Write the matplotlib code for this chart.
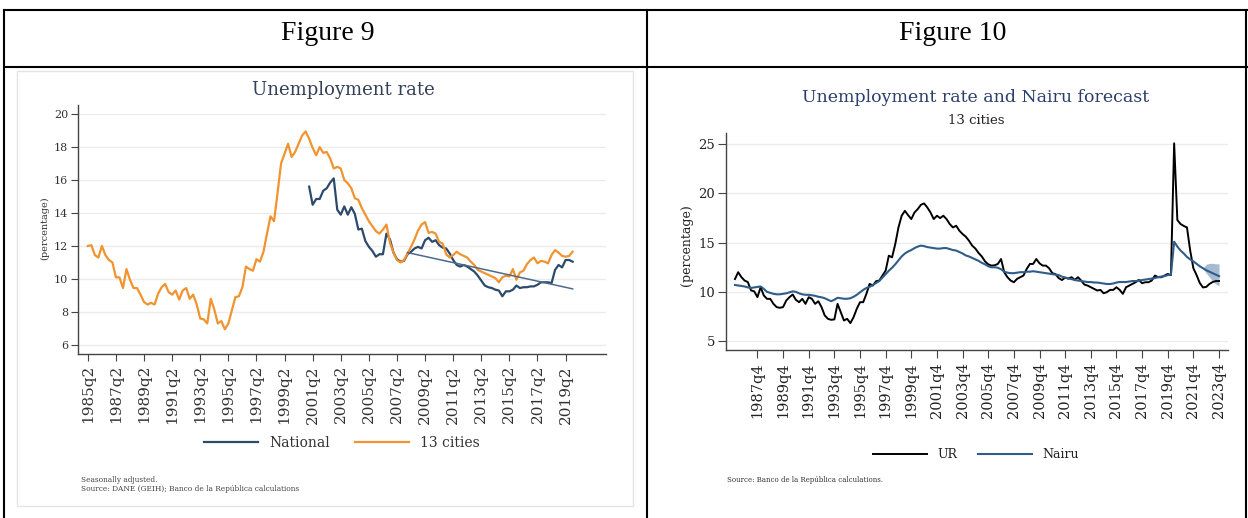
import numpy as np
import matplotlib
matplotlib.use("Agg")
import matplotlib.pyplot as plt
from matplotlib.lines import Line2D
from matplotlib.patches import Rectangle

W, H = 1248, 518
SERIF = "DejaVu Serif"


def qnum(year, q):
    return year * 4 + (q - 1)


def fx(px):
    return px / W


def fy(py):
    return 1 - py / H


# ── Figure 9 data: unemployment rate, seasonally adjusted ────────────────────
CITIES13_START = (1985, 2)
CITIES13 = [
    12.0, 12.05, 11.45, 11.3, 12.0, 11.45, 11.15, 11.0, 10.1, 10.1,
    9.45, 10.6, 9.95, 9.45, 9.45, 9.05, 8.6, 8.45, 8.55, 8.45,
    9.1, 9.5, 9.7, 9.2, 9.05, 9.3, 8.75, 9.3, 9.45, 8.8,
    9.05, 8.45, 7.6, 7.55, 7.3, 8.8, 8.15, 7.3, 7.45, 6.95,
    7.3, 8.1, 8.9, 8.95, 9.5, 10.75, 10.6, 10.5, 11.2, 11.05,
    11.65, 12.75, 13.8, 13.5, 15.2, 17.0, 17.6, 18.2, 17.4, 17.7,
    18.2, 18.7, 18.95, 18.5, 17.95, 17.5, 18.0, 17.65, 17.7, 17.3,
    16.7, 16.8, 16.7, 16.0, 15.8, 15.5, 14.9, 14.8, 14.3, 13.9,
    13.5, 13.2, 12.9, 12.75, 13.0, 13.3, 12.2, 11.6, 11.15, 11.0,
    11.15, 11.55, 11.95, 12.4, 12.95, 13.3, 13.45, 12.8, 12.85, 12.75,
    12.25, 12.15, 11.5, 11.3, 11.45, 11.65, 11.5, 11.4, 11.3, 11.05,
    10.85, 10.55, 10.45, 10.35, 10.25, 10.15, 10.05, 9.8, 10.1, 10.2,
    10.15, 10.6, 9.95, 10.4, 10.5, 10.9, 11.15, 11.3, 10.95, 11.1,
    11.05, 10.95, 11.45, 11.75, 11.6, 11.4, 11.35, 11.4, 11.65,
]

NATIONAL_START = (2001, 1)
NATIONAL = [
    15.6, 14.5, 14.85, 14.85, 15.35, 15.5, 15.85,
    16.1, 14.2, 13.9, 14.4, 13.9, 14.35, 13.95, 13.0, 13.05, 12.3,
    11.95, 11.7, 11.35, 11.5, 11.5, 12.75, 12.4, 11.6, 11.2, 11.05,
    11.1, 11.5, 11.65, 11.85, 11.95, 11.85, 12.35, 12.5, 12.25, 12.35,
    12.05, 11.9, 11.85, 11.55, 11.15, 10.85, 10.75, 10.85, 10.75, 10.6,
    10.45, 10.2, 9.9, 9.6, 9.5, 9.45, 9.35, 9.3, 8.95, 9.25,
    9.25, 9.35, 9.6, 9.45, 9.5, 9.5, 9.55, 9.55, 9.65, 9.8,
    9.8, 9.8, 9.75, 10.55, 10.85, 10.7, 11.15, 11.15, 11.05,
]

TREND_PERIODS = [(2008, 1), (2019, 4)]
TREND_VALUES = [11.6, 9.4]

FIG9_TICKS = [(y, 2) for y in range(1985, 2020, 2)]

# ── Figure 10 data: 13 cities UR and Nairu forecast ──────────────────────────
UR_START = (1986, 1)
UR = [
    11.3, 12.0, 11.5, 11.15, 11.0, 10.15, 10.05,
    9.46, 10.47, 9.63, 9.29, 9.29, 8.78, 8.45, 8.38, 8.45, 9.12,
    9.46, 9.73, 9.19, 8.95, 9.29, 8.78, 9.46, 9.29, 8.78, 9.05,
    8.45, 7.6, 7.26, 7.16, 7.2, 8.78, 7.94, 7.09, 7.26, 6.82,
    7.43, 8.28, 8.95, 8.95, 9.8, 10.81, 10.64, 11.08, 11.15, 11.66,
    12.16, 13.68, 13.51, 14.86, 16.55, 17.74, 18.24, 17.8, 17.4, 18.07,
    18.41, 18.85, 18.99, 18.58, 18.07, 17.4, 17.74, 17.5, 17.74, 17.4,
    16.89, 16.55, 16.72, 16.22, 15.88, 15.61, 15.2, 14.7, 14.4, 13.95,
    13.6, 13.1, 12.8, 12.67, 12.7, 12.84, 13.34, 11.99, 11.49, 11.15,
    10.98, 11.32, 11.49, 11.66, 12.33, 12.84, 12.84, 13.34, 12.9, 12.67,
    12.67, 12.4, 11.9, 11.8, 11.4, 11.2, 11.45, 11.35, 11.49, 11.22,
    11.49, 11.15, 10.74, 10.64, 10.47, 10.3, 10.14, 10.2, 9.86, 9.97,
    10.2, 10.2, 10.47, 10.2, 9.8, 10.47, 10.64, 10.81, 10.98, 11.22,
    10.88, 10.98, 10.98, 11.15, 11.66, 11.49, 11.49, 11.66, 11.82, 11.7,
    25.1, 17.3, 16.9, 16.7, 16.55, 14.2, 12.4, 11.7, 10.9, 10.45,
    10.5, 10.8, 11.0, 11.1, 11.1,
]

NAIRU = [
    10.7, 10.65, 10.6, 10.55, 10.45, 10.4, 10.45,
    10.5, 10.55, 10.3, 10.0, 9.9, 9.8, 9.75, 9.75, 9.8, 9.85,
    9.95, 10.05, 10.0, 9.85, 9.75, 9.7, 9.7, 9.65, 9.6, 9.5,
    9.45, 9.35, 9.2, 9.05, 9.2, 9.4, 9.35, 9.3, 9.3, 9.35,
    9.5, 9.7, 9.95, 10.2, 10.4, 10.5, 10.7, 10.9, 11.1, 11.45,
    11.8, 12.15, 12.45, 12.8, 13.2, 13.6, 13.9, 14.1, 14.25, 14.45,
    14.6, 14.7, 14.65, 14.55, 14.5, 14.45, 14.4, 14.4, 14.45, 14.45,
    14.35, 14.25, 14.2, 14.05, 13.9, 13.7, 13.6, 13.45, 13.3, 13.15,
    12.95, 12.8, 12.6, 12.5, 12.5, 12.45, 12.3, 12.05, 11.95, 11.9,
    11.9, 11.95, 12.0, 12.0, 12.05, 12.05, 12.1, 12.05, 12.0, 11.95,
    11.9, 11.85, 11.8, 11.75, 11.7, 11.55, 11.45, 11.35, 11.3, 11.2,
    11.15, 11.1, 11.05, 11.0, 11.0, 10.95, 10.95, 10.9, 10.85, 10.8,
    10.8, 10.85, 10.95, 11.0, 11.0, 11.0, 11.05, 11.1, 11.1, 11.15,
    11.2, 11.25, 11.3, 11.35, 11.4, 11.5, 11.55, 11.6, 11.7, 11.75,
    15.1, 14.6, 14.2, 13.9, 13.55, 13.3, 13.1, 12.85, 12.6, 12.4,
    12.2, 12.05, 11.9, 11.75, 11.6,
]

BAND_START = (2022, 3)
BAND_LOW = [12.4, 11.9, 11.5, 11.1, 10.8, 10.6]
BAND_HIGH = [12.4, 12.8, 12.9, 12.9, 12.85, 12.85]

FIG10_TICKS = [(y, 4) for y in range(1987, 2024, 2)]

NAVY = "#2c4a6b"
ORANGE = "#f1932f"
NAIRU_BLUE = "#2f5d8a"
AXIS = "#444444"
GRID = "#ececec"


def series_x(start, n):
    return qnum(*start) + np.arange(n)


def style_axes(ax):
    for side in ("top", "right"):
        ax.spines[side].set_visible(False)
    for side in ("left", "bottom"):
        ax.spines[side].set_color(AXIS)
        ax.spines[side].set_linewidth(1.0)
    ax.yaxis.grid(True, color=GRID, lw=1.0)
    ax.set_axisbelow(True)


fig = plt.figure(figsize=(W / 100, H / 100), dpi=100)

# ── table frame and headers ──────────────────────────────────────────────────
for (x0, y0, x1, y1) in [(4, 10, 1247, 10), (4, 67, 1247, 67),
                         (4, 10, 4, 518), (647, 10, 647, 518),
                         (1246, 10, 1246, 518)]:
    fig.add_artist(Line2D([fx(x0), fx(x1)], [fy(y0), fy(y1)],
                          transform=fig.transFigure, color="black", lw=1.5))

fig.text(fx(328), fy(33), "Figure 9", ha="center", va="center",
         family="Liberation Serif", fontsize=20)
fig.text(fx(953), fy(33), "Figure 10", ha="center", va="center",
         family="Liberation Serif", fontsize=20)

fig.add_artist(Rectangle((fx(17), fy(506)), fx(633) - fx(17), fy(71) - fy(506),
                         transform=fig.transFigure, fill=False,
                         edgecolor="#e4e4e4", lw=1.0))

# ── Figure 9 ─────────────────────────────────────────────────────────────────
ax9 = fig.add_axes([fx(78), fy(354), fx(606) - fx(78), fy(105) - fy(354)])
style_axes(ax9)

x_nat = series_x(NATIONAL_START, len(NATIONAL))
x_c13 = series_x(CITIES13_START, len(CITIES13))
ax9.plot(x_nat, NATIONAL, color=NAVY, lw=1.6, label="National")
ax9.plot(x_c13, CITIES13, color=ORANGE, lw=1.6, label="13 cities")
ax9.plot([qnum(*p) for p in TREND_PERIODS], TREND_VALUES,
         color="#4d6a8a", lw=1.1)

base9 = qnum(*CITIES13_START)
ax9.set_xlim(base9 - 2.8, base9 + 147.5)
ax9.set_ylim(5.45, 20.55)
ax9.set_yticks(range(6, 21, 2))
ax9.set_xticks([qnum(*t) for t in FIG9_TICKS])
ax9.set_xticklabels([f"{y}q{q}" for y, q in FIG9_TICKS], rotation=90)
ax9.tick_params(axis="y", labelsize=8, length=5, color=AXIS, labelcolor="#333333", pad=2)
ax9.tick_params(axis="x", labelsize=11, length=5, color=AXIS, labelcolor="#333333", pad=3)
for lab in ax9.get_xticklabels() + ax9.get_yticklabels():
    lab.set_family(SERIF)

fig.text(fx(45), fy(228), "(percentage)", rotation=90, ha="center", va="center",
         family=SERIF, fontsize=7, color="#333333")
fig.text(fx(343), fy(90), "Unemployment rate", ha="center", va="center",
         family=SERIF, fontsize=13, color="#34405a")

leg9 = ax9.legend(loc="center", bbox_to_anchor=(fx(342), fy(443)),
                  bbox_transform=fig.transFigure, ncol=2, frameon=False,
                  prop={"family": SERIF, "size": 10}, handlelength=3.9,
                  handletextpad=0.8, columnspacing=1.8)
for t in leg9.get_texts():
    t.set_color("#333333")

fig.text(fx(81), fy(480), "Seasonally adjusted.", ha="left", va="center",
         family=SERIF, fontsize=5.3, color="#444444")
fig.text(fx(81), fy(489), "Source: DANE (GEIH); Banco de la República calculations",
         ha="left", va="center", family=SERIF, fontsize=5.3, color="#444444")

# ── Figure 10 ────────────────────────────────────────────────────────────────
ax10 = fig.add_axes([fx(726), fy(350), fx(1228) - fx(726), fy(133) - fy(350)])
style_axes(ax10)

x_ur = series_x(UR_START, len(UR))
x_band = series_x(BAND_START, len(BAND_LOW))
ax10.fill_between(x_band, BAND_LOW, BAND_HIGH, color="#9db4cc", lw=0, alpha=0.9)
ax10.plot(x_ur, UR, color="black", lw=1.4, label="UR")
ax10.plot(x_ur, NAIRU, color=NAIRU_BLUE, lw=1.5, label="Nairu")

base10 = qnum(1987, 4)
ax10.set_xlim(base10 - 9.8, base10 + 146.8)
ax10.set_ylim(4.09, 26.15)
ax10.set_yticks(range(5, 26, 5))
ax10.set_xticks([qnum(*t) for t in FIG10_TICKS])
ax10.set_xticklabels([f"{y}q{q}" for y, q in FIG10_TICKS], rotation=90)
ax10.tick_params(axis="y", labelsize=9.5, length=6, color=AXIS, labelcolor="#222222", pad=2)
ax10.tick_params(axis="x", labelsize=10.5, length=6, color=AXIS, labelcolor="#222222", pad=3)
for lab in ax10.get_xticklabels() + ax10.get_yticklabels():
    lab.set_family(SERIF)

fig.text(fx(686), fy(245), "(percentage)", rotation=90, ha="center", va="center",
         family=SERIF, fontsize=9, color="#222222")
fig.text(fx(976), fy(97), "Unemployment rate and Nairu forecast", ha="center",
         va="center", family=SERIF, fontsize=12.5, color="#2b3f6c")
fig.text(fx(976), fy(121), "13 cities", ha="center", va="center",
         family=SERIF, fontsize=9.5, color="#222222")

leg10 = ax10.legend(loc="center", bbox_to_anchor=(fx(976), fy(455)),
                    bbox_transform=fig.transFigure, ncol=2, frameon=False,
                    prop={"family": SERIF, "size": 9}, handlelength=4.3,
                    handletextpad=0.8, columnspacing=1.7)
for t in leg10.get_texts():
    t.set_color("#222222")

fig.text(fx(727), fy(480), "Source: Banco de la República calculations.",
         ha="left", va="center", family=SERIF, fontsize=5, color="#333333")

fig.savefig("out.png", dpi=100)
